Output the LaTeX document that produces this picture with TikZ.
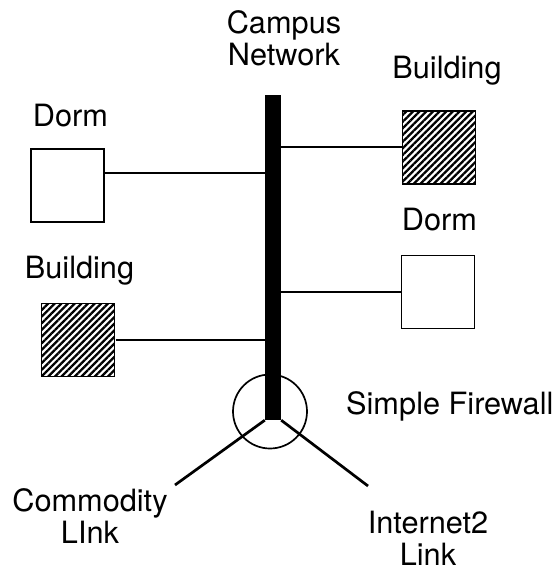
\documentclass[tikz,border=0pt]{standalone}
\usepackage{fontspec}
\setmainfont{TeX Gyre Heros}
\usetikzlibrary{patterns.meta}

\tikzset{
  site/.style={draw, line width=1.9bp, minimum size=73bp, inner sep=0pt},
  dorm/.style={site, fill=white},
  bldg/.style={site, pattern={Lines[angle=45,distance=4.7bp,line width=2.3bp]}, pattern color=black},
  lbl/.style={font=\fontsize{30.7bp}{32bp}\selectfont, inner sep=0pt},
  link/.style={line width=2bp},
  uplink/.style={line width=2.7bp},
}

\begin{document}
\begin{tikzpicture}[x=1bp,y=-1bp]
        \useasboundingbox (0,0) rectangle (557,571);
        %sites
        \node[dorm] (dormL) at (67.5,185.5) {};
        \node[bldg] (bldgL) at (78,340) {};
        \node[bldg] (bldgR) at (439,147.5) {};
        \node[dorm] (dormR) at (438,292) {};
        \node[lbl, anchor=base] (dormLtxt) at (70.5,127) {Dorm};
        \node[lbl, anchor=base] (bldgLtxt) at (79.5,278) {Building};
        \node[lbl, anchor=base] (bldgRtxt) at (447,79) {Building};
        \node[lbl, anchor=base] (dormRtxt) at (439.5,230) {Dorm};
        %backbone and firewall
        \node[draw, circle, line width=1.7bp, minimum size=74bp, inner sep=0pt] (fw) at (270,411.5) {};
        \coordinate (commodity) at (175,485);
        \coordinate (inet2) at (368,486);
        \node[fill=black, inner sep=0pt, minimum width=16bp, minimum height=325bp] (backbone) at (273,257.5) {};
        \draw[uplink] (backbone.south west) -- (commodity);
        \draw[uplink] (backbone.south east) -- (inet2);
        \coordinate (dormLport) at ([yshift=12.5bp]dormL.east);
        \draw[link] (dormLport) -- (dormLport -| backbone.west);
        \draw[link] (bldgL.east) -- (bldgL.east -| backbone.west);
        \draw[link] (bldgR.west) -- (bldgR.west -| backbone.east);
        \draw[link] (dormR.west) -- (dormR.west -| backbone.east);
        \node[lbl, align=center, anchor=north] (campus) at (284,10) {Campus\\Network};
        \node[lbl, anchor=base west] (fwtxt) at (346,414) {Simple Firewall};
        \node[lbl, align=center, anchor=north] (commtxt) at (90,488) {Commodity\\LInk};
        \node[lbl, align=center, anchor=north] (inettxt) at (428,511) {Internet2\\Link};
\end{tikzpicture}
\end{document}
